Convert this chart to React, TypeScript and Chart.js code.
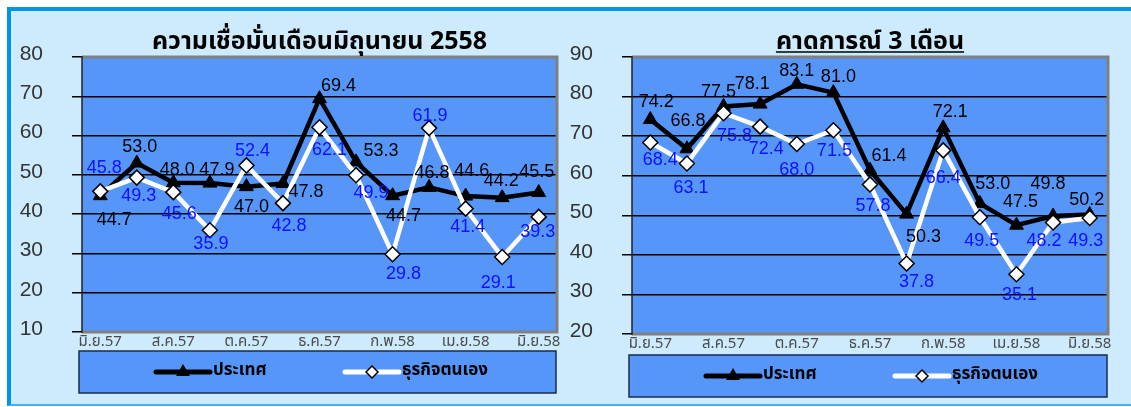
import React, { useEffect, useRef } from "react";
import { Chart, registerables } from "chart.js";

Chart.register(...registerables);

// ---------- data ----------
const months = [
  "มิ.ย.57", "ก.ค.57", "ส.ค.57", "ก.ย.57", "ต.ค.57", "พ.ย.57", "ธ.ค.57",
  "ม.ค.58", "ก.พ.58", "มี.ค.58", "เม.ย.58", "พ.ค.58", "มิ.ย.58",
];
const seriesNames = ["ประเทศ", "ธุรกิจตนเอง"];
const leftTitle = "ความเชื่อมั่นเดือนมิถุนายน 2558";
const rightTitle = "คาดการณ์ 3 เดือน";

const currentCountry = [44.7, 53.0, 48.0, 47.9, 47.0, 47.8, 69.4, 53.3, 44.7, 46.8, 44.6, 44.2, 45.5];
const currentBusiness = [45.8, 49.3, 45.6, 35.9, 52.4, 42.8, 62.1, 49.9, 29.8, 61.9, 41.4, 29.1, 39.3];
const outlookCountry = [74.2, 66.8, 77.5, 78.1, 83.1, 81.0, 61.4, 50.3, 72.1, 53.0, 47.5, 49.8, 50.2];
const outlookBusiness = [68.4, 63.1, 75.8, 72.4, 68.0, 71.5, 57.8, 37.8, 66.4, 49.5, 35.1, 48.2, 49.3];

const leftYTicks = [10, 80];
const rightYTicks = [20, 90];

// ---------- label nudges (dx, dy in px relative to each point) ----------
const leftCountryNudge = [[14, 24], [3, -16], [4, -13], [7, -13], [5, 20], [23, 9], [19, -13], [25, -11], [11, 20], [3, -14], [6, -25], [-1, -17], [-2, -21]];
const leftBusinessNudge = [[4, -23], [2, 18], [6, 22], [1, 14], [6, -14], [6, 23], [10, 23], [15, 18], [11, 20], [1, -12], [2, 18], [-4, 26], [-1, 15]];
const rightCountryNudge = [[6, -17], [1, -28], [-5, -14], [-8, -20], [0, -13], [5, -16], [19, -14], [17, 23], [7, -16], [13, -19], [4, -23], [-5, -32], [-3, -14]];
const rightBusinessNudge = [[10, 18], [4, 25], [11, 23], [6, 22], [0, 26], [1, 21], [3, 22], [10, 18], [0, 28], [2, 24], [3, 21], [-9, 19], [-4, 23]];

// ---------- styles ----------
const THAI = "Tahoma, 'Noto Sans Thai', 'Noto Sans Thai UI', 'Noto Sans', 'DejaVu Sans', sans-serif";
const NUM = "'Liberation Sans', Arial, sans-serif";
const PLOT_BG = "#5596F8";
const PAGE_BG = "#CDEBFD";
const W = 1131;
const H = 407;

type PanelCfg = {
  title: string;
  underline: boolean;
  country: number[];
  business: number[];
  yRange: number[];
  countryNudge: number[][];
  businessNudge: number[][];
  padding: { left: number; top: number; right: number; bottom: number };
  legendGap: number;
};

function drawTriangle(ctx: CanvasRenderingContext2D, x: number, y: number, r: number) {
  ctx.beginPath();
  for (let k = 0; k < 3; k++) {
    const a = (k * 2 * Math.PI) / 3;
    const px = x + Math.sin(a) * r;
    const py = y - Math.cos(a) * r;
    if (k === 0) ctx.moveTo(px, py);
    else ctx.lineTo(px, py);
  }
  ctx.closePath();
  ctx.fillStyle = "#000";
  ctx.fill();
}

function drawDiamond(ctx: CanvasRenderingContext2D, x: number, y: number, r: number) {
  ctx.beginPath();
  ctx.moveTo(x, y - r);
  ctx.lineTo(x + r, y);
  ctx.lineTo(x, y + r);
  ctx.lineTo(x - r, y);
  ctx.closePath();
  ctx.fillStyle = "#fff";
  ctx.fill();
  ctx.lineWidth = 1.5;
  ctx.strokeStyle = "#000";
  ctx.stroke();
}

function makePlugin(cfg: PanelCfg) {
  return {
    id: "panelDecor",
    beforeDraw(chart: any) {
      const { ctx, chartArea: a } = chart;
      ctx.save();
      ctx.fillStyle = PLOT_BG;
      ctx.fillRect(a.left, a.top, a.right - a.left, a.bottom - a.top);
      ctx.restore();
    },
    beforeDatasetsDraw(chart: any) {
      const { ctx, chartArea: a } = chart;
      ctx.save();
      ctx.strokeStyle = "#808080";
      ctx.lineWidth = 3;
      ctx.beginPath();
      ctx.moveTo(a.left, a.top);
      ctx.lineTo(a.right, a.top);
      ctx.lineTo(a.right, a.bottom);
      ctx.lineTo(a.left, a.bottom);
      ctx.stroke();
      ctx.strokeStyle = "#222";
      ctx.lineWidth = 1.5;
      ctx.beginPath();
      ctx.moveTo(a.left, a.top - 1);
      ctx.lineTo(a.left, a.bottom + 1);
      ctx.stroke();
      ctx.restore();
    },
    afterDatasetsDraw(chart: any) {
      const { ctx } = chart;
      ctx.save();
      ctx.font = `18px ${NUM}`;
      ctx.textAlign = "center";
      ctx.textBaseline = "middle";
      chart.data.datasets.forEach((ds: any, di: number) => {
        const meta = chart.getDatasetMeta(di);
        const nudge = di === 0 ? cfg.countryNudge : cfg.businessNudge;
        ctx.fillStyle = di === 0 ? "#000" : "#1010FF";
        meta.data.forEach((pt: any, i: number) => {
          const v = ds.data[i] as number;
          ctx.fillText(v.toFixed(1), pt.x + nudge[i][0], pt.y + nudge[i][1]);
        });
      });
      ctx.restore();
    },
    afterDraw(chart: any) {
      const { ctx, chartArea: a } = chart;
      ctx.save();
      // title
      const cx = (a.left + a.right) / 2;
      ctx.font = `bold 25px ${THAI}`;
      ctx.fillStyle = "#000";
      ctx.textAlign = "center";
      ctx.textBaseline = "alphabetic";
      ctx.fillText(cfg.title, cx, a.top - 8);
      if (cfg.underline) {
        const w = ctx.measureText(cfg.title).width;
        ctx.strokeStyle = "#000";
        ctx.lineWidth = 1.5;
        ctx.beginPath();
        ctx.moveTo(cx - w / 2, a.top - 5);
        ctx.lineTo(cx + w / 2, a.top - 5);
        ctx.stroke();
      }
      // legend box
      const bx = a.left - 3;
      const by = a.bottom + cfg.legendGap;
      const bw = a.right - 1 - bx;
      const bh = 42;
      ctx.fillStyle = PLOT_BG;
      ctx.fillRect(bx, by, bw, bh);
      ctx.strokeStyle = "#1b2b4b";
      ctx.lineWidth = 1.5;
      ctx.strokeRect(bx, by, bw, bh);
      const my = by + bh / 2;
      const items = [
        { x: bx + 77, color: "#000", draw: drawTriangle },
        { x: bx + 266, color: "#fff", draw: drawDiamond },
      ];
      items.forEach((it, k) => {
        ctx.strokeStyle = it.color;
        ctx.lineWidth = 5;
        ctx.lineCap = "round";
        ctx.beginPath();
        ctx.moveTo(it.x, my);
        ctx.lineTo(it.x + 54, my);
        ctx.stroke();
        ctx.lineCap = "butt";
        it.draw(ctx, it.x + 27, my, k === 0 ? 8 : 6);
        ctx.fillStyle = "#000";
        ctx.font = `bold 17px ${THAI}`;
        ctx.textAlign = "left";
        ctx.textBaseline = "middle";
        ctx.fillText(seriesNames[k], it.x + 57, my);
      });
      ctx.restore();
    },
  };
}

function makeConfig(cfg: PanelCfg): any {
  return {
    type: "line",
    data: {
      labels: months,
      datasets: [
        {
          label: seriesNames[0],
          data: cfg.country,
          borderColor: "#000",
          borderWidth: 4.5,
          pointStyle: "triangle",
          pointRadius: 8,
          pointBackgroundColor: "#000",
          pointBorderColor: "#000",
          pointBorderWidth: 1,
          tension: 0,
          order: 1,
        },
        {
          label: seriesNames[1],
          data: cfg.business,
          borderColor: "#fff",
          borderWidth: 4.5,
          pointStyle: "rectRot",
          pointRadius: 7.5,
          pointBackgroundColor: "#fff",
          pointBorderColor: "#000",
          pointBorderWidth: 1.5,
          tension: 0,
          order: 0,
        },
      ],
    },
    options: {
      responsive: false,
      animation: false,
      events: [],
      layout: { padding: cfg.padding },
      plugins: { legend: { display: false }, title: { display: false }, tooltip: { enabled: false } },
      scales: {
        x: {
          type: "category",
          offset: true,
          grid: { display: false, drawTicks: false },
          border: { display: false },
          ticks: {
            autoSkip: false,
            maxRotation: 0,
            minRotation: 0,
            padding: 2,
            color: "#4a4a4a",
            font: { size: 15, family: THAI },
            callback: (_v: any, i: number) => (i % 2 === 0 ? months[i] : ""),
          },
          afterFit: (s: any) => {
            s.height = 30;
          },
        },
        y: {
          min: cfg.yRange[0],
          max: cfg.yRange[1],
          grid: { color: "#000", lineWidth: 1.5, tickLength: 10, drawTicks: true },
          border: { display: false },
          ticks: {
            stepSize: 10,
            padding: 29,
            labelOffset: -3,
            color: "#333",
            font: { size: 21, family: NUM },
          },
          afterFit: (s: any) => {
            s.width = 82;
          },
        },
      },
    },
    plugins: [makePlugin(cfg)],
  };
}

const leftCfg: PanelCfg = {
  title: leftTitle,
  underline: false,
  country: currentCountry,
  business: currentBusiness,
  yRange: leftYTicks,
  countryNudge: leftCountryNudge,
  businessNudge: leftBusinessNudge,
  padding: { left: 0, top: 57, right: W - 557, bottom: H - 332 - 30 },
  legendGap: 19,
};

const rightCfg: PanelCfg = {
  title: rightTitle,
  underline: true,
  country: outlookCountry,
  business: outlookBusiness,
  yRange: rightYTicks,
  countryNudge: rightCountryNudge,
  businessNudge: rightBusinessNudge,
  padding: { left: 550, top: 57, right: W - 1108, bottom: H - 334 - 30 },
  legendGap: 21,
};

function Panel({ cfg }: { cfg: PanelCfg }) {
  const ref = useRef<HTMLCanvasElement | null>(null);
  useEffect(() => {
    if (!ref.current) return;
    const chart = new Chart(ref.current, makeConfig(cfg));
    return () => chart.destroy();
  }, [cfg]);
  return (
    <canvas
      ref={ref}
      width={W}
      height={H}
      style={{ position: "absolute", left: 0, top: 0, width: W, height: H }}
    />
  );
}

export default function App() {
  return (
    <div style={{ position: "absolute", left: 0, top: 0, width: W, height: H, background: "#fff", overflow: "hidden" }}>
      <div
        style={{
          position: "absolute",
          left: 7,
          top: 7,
          width: W - 7,
          height: H - 7 - 1,
          background: PAGE_BG,
          borderTop: "4px solid #0096E6",
          borderLeft: "4px solid #0096E6",
          borderBottom: "2px solid #3CB4F5",
          boxSizing: "border-box",
        }}
      />
      <Panel cfg={leftCfg} />
      <Panel cfg={rightCfg} />
    </div>
  );
}
